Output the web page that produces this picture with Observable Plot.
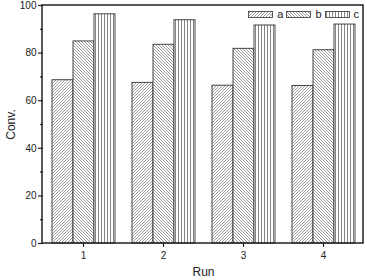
<!DOCTYPE html>
<html><head><meta charset="utf-8">
<script src="https://cdn.jsdelivr.net/npm/d3@7"></script>
<script src="https://cdn.jsdelivr.net/npm/@observablehq/plot@0.6"></script>
<style>
html,body{margin:0;padding:0;background:#fff;overflow:hidden;font-family:"Liberation Sans",Arial,sans-serif;}
#wrap{position:relative;width:367px;height:280px;overflow:hidden;}
#wrap > svg{display:block;}
#legend{position:absolute;right:8px;top:9px;display:flex;align-items:center;font-size:11px;line-height:11px;color:#222;white-space:nowrap;}
#legend .it{display:flex;align-items:center;margin-left:3px;}
#legend .it svg{margin-right:4px;display:block;}
#defs{position:absolute;left:0;top:0;}
</style></head>
<body>
<svg id="defs" width="0" height="0">
<defs>
<pattern id="pat-a" patternUnits="userSpaceOnUse" width="3" height="3">
<rect width="3" height="3" fill="#fff"/>
<path d="M-1,1 l2,-2 M0,3 l3,-3 M2,4 l2,-2" stroke="#666" stroke-width="0.65"/>
</pattern>
<pattern id="pat-b" patternUnits="userSpaceOnUse" width="3" height="3">
<rect width="3" height="3" fill="#fff"/>
<path d="M-1,2 l2,2 M0,0 l3,3 M2,-1 l2,2" stroke="#666" stroke-width="0.65"/>
</pattern>
<pattern id="pat-c" patternUnits="userSpaceOnUse" width="3" height="4">
<rect width="3" height="4" fill="#fff"/>
<path d="M1.5,0 v4" stroke="#666" stroke-width="0.8"/>
</pattern>
</defs>
</svg>
<div id="wrap"><div id="legend"></div></div>
<script>
const runs = [1, 2, 3, 4];
const series = ["a", "b", "c"];
const valuesA = [68.6, 67.5, 66.3, 66.2];
const valuesB = [84.9, 83.5, 81.8, 81.2];
const valuesC = [96.3, 93.8, 91.6, 92.0];
const yTicks = [0, 20, 40, 60, 80, 100];
const yMinor = [10, 30, 50, 70, 90];

const patterns = {a: "url(#pat-a)", b: "url(#pat-b)", c: "url(#pat-c)"};
const seriesValues = {a: valuesA, b: valuesB, c: valuesC};
const data = [];
runs.forEach((r, i) => series.forEach(s => data.push({run: r, series: s, value: seriesValues[s][i]})));

const plot = Plot.plot({
  width: 367, height: 280,
  marginTop: 5, marginBottom: 37, marginLeft: 42, marginRight: 4,
  style: {fontFamily: "Liberation Sans, Arial, sans-serif", fontSize: "10px", color: "#222", background: "#fff"},
  fx: {domain: runs, padding: 0, axis: null},
  x: {domain: series, paddingInner: 0, paddingOuter: 0.37, axis: null},
  y: {domain: [0, 100]},
  color: {type: "identity"},
  marks: [
    Plot.barY(data, {fx: "run", x: "series", y: "value", fill: d => patterns[d.series], stroke: "#333", strokeWidth: 0.9}),
    Plot.axisY({ticks: yTicks, tickSize: 5, tickPadding: 2, strokeWidth: 1.2, fontSize: 10, label: "Conv.", labelAnchor: "center", labelArrow: "none", labelOffset: 37}),
    Plot.axisY({ticks: yMinor, tickSize: 3, text: null, label: null, strokeWidth: 1.2}),
    Plot.axisFx({anchor: "bottom", tickSize: 4, tickPadding: 4, strokeWidth: 1.2, fontSize: 10, label: "Run", labelAnchor: "center", labelArrow: "none", labelOffset: 32})
  ]
});
plot.querySelectorAll("[aria-label='y-axis label'], [aria-label='fx-axis label']").forEach(g => g.setAttribute("font-size", "12px"));

// outer frame spanning all facets, from the library's own scale ranges
const [fx0, fx1] = plot.scale("fx").range;
const [yb, yt] = plot.scale("y").range;
d3.select(plot).append("rect")
  .attr("x", Math.min(fx0, fx1)).attr("y", Math.min(yb, yt))
  .attr("width", Math.abs(fx1 - fx0)).attr("height", Math.abs(yb - yt))
  .attr("fill", "none").attr("stroke", "#222").attr("stroke-width", 1.5);

document.getElementById("wrap").prepend(plot);

const legend = document.getElementById("legend");
series.forEach(s => {
  const it = document.createElement("div");
  it.className = "it";
  it.innerHTML = `<svg width="25" height="7"><rect x="0.5" y="0.5" width="24" height="6" fill="${patterns[s]}" stroke="#333" stroke-width="0.8"/></svg><span>${s}</span>`;
  legend.appendChild(it);
});
</script>
</body></html>
